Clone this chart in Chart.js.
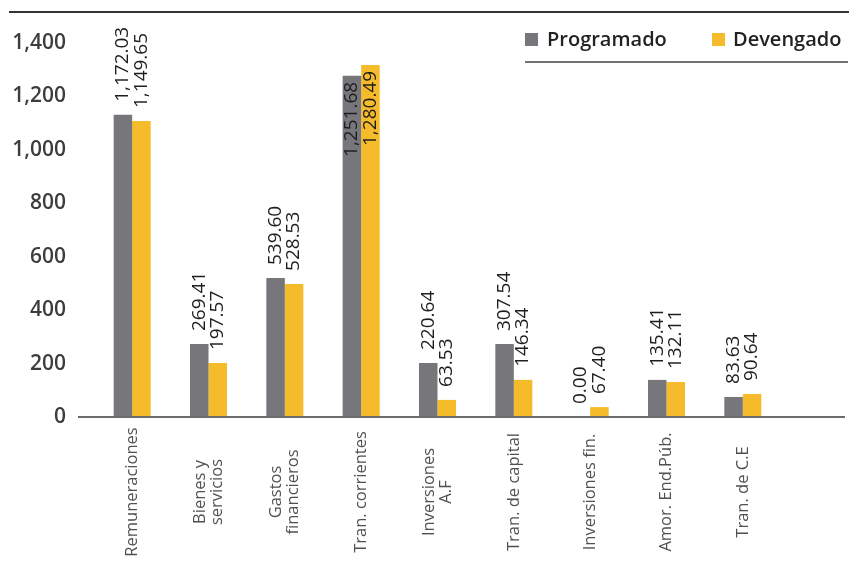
<!DOCTYPE html>
<html>
<head>
<meta charset="utf-8">
<script src="https://cdn.jsdelivr.net/npm/chart.js@4"></script>
<style>
    html, body { margin: 0; padding: 0; background: #fff; }
    #wrap { width: 849px; height: 562px; position: relative; }
</style>
</head>
<body>
<div id="wrap"><canvas id="gastoChart"></canvas></div>
<script>
const categories = [
    ['Remuneraciones'], ['Bienes y', 'servicios'], ['Gastos', 'financieros'],
    ['Tran. corrientes'], ['Inversiones', 'A.F'], ['Tran. de capital'],
    ['Inversiones fin.'], ['Amor. End.Púb.'], ['Tran. de C.E']
];
// bar heights as drawn in the picture
const programado = [1131, 273, 520, 1277, 202, 273, 0, 139, 75];
const devengado = [1108, 202, 498, 1318, 64, 139, 37, 131, 86];
// value labels printed above the bars
const programadoLabels = ['1,172.03', '269.41', '539.60', '1,251.68', '220.64', '307.54', '0.00', '135.41', '83.63'];
const devengadoLabels = ['1,149.65', '197.57', '528.53', '1,280.49', '63.53', '146.34', '67.40', '132.11', '90.64'];
const yMin = 0, yMax = 1400, yStep = 200;

const FONT = '"Open Sans", sans-serif';
const valueLabels = [programadoLabels, devengadoLabels];

const decorPlugin = {
    id: 'decor',
    afterDatasetsDraw(chart) {
        const ctx = chart.ctx;
        const area = chart.chartArea;
        const xs = chart.scales.x;
        ctx.save();

        // top rule
        ctx.strokeStyle = '#333';
        ctx.lineWidth = 2;
        ctx.beginPath();
        ctx.moveTo(9, 12);
        ctx.lineTo(849, 12);
        ctx.stroke();

        // baseline
        ctx.strokeStyle = '#6b6b6b';
        ctx.lineWidth = 2;
        ctx.beginPath();
        ctx.moveTo(78, area.bottom);
        ctx.lineTo(845, area.bottom);
        ctx.stroke();

        // value labels, rotated
        ctx.fillStyle = '#1e1e1e';
        ctx.font = '19px ' + FONT;
        ctx.textBaseline = 'middle';
        chart.data.datasets.forEach((ds, di) => {
            chart.getDatasetMeta(di).data.forEach((bar, i) => {
                const txt = valueLabels[di][i];
                const w = ctx.measureText(txt).width;
                ctx.save();
                if (bar.y - 13 - w < 0) {
                    ctx.translate(bar.x, bar.y + 6);
                    ctx.rotate(-Math.PI / 2);
                    ctx.textAlign = 'right';
                } else {
                    ctx.translate(bar.x, bar.y - 13);
                    ctx.rotate(-Math.PI / 2);
                    ctx.textAlign = 'left';
                }
                ctx.fillText(txt, 0, 0);
                ctx.restore();
            });
        });

        // category labels, rotated and centred
        ctx.fillStyle = '#505050';
        ctx.font = '16.5px ' + FONT;
        ctx.textAlign = 'center';
        categories.forEach((lines, i) => {
            const x = xs.getPixelForValue(i);
            lines.forEach((line, k) => {
                const off = (k - (lines.length - 1) / 2) * 17;
                ctx.save();
                ctx.translate(x + off, 492);
                ctx.rotate(-Math.PI / 2);
                ctx.fillText(line, 0, 0);
                ctx.restore();
            });
        });

        // legend
        ctx.font = '600 20px ' + FONT;
        ctx.textAlign = 'left';
        const legendPos = [[525, 547], [712, 733]];
        chart.data.datasets.forEach((ds, di) => {
            ctx.fillStyle = ds.backgroundColor;
            ctx.fillRect(legendPos[di][0], 33, 13, 13);
            ctx.fillStyle = '#222';
            ctx.fillText(ds.label, legendPos[di][1], 40);
        });
        ctx.strokeStyle = '#444';
        ctx.lineWidth = 1.5;
        ctx.beginPath();
        ctx.moveTo(525, 62);
        ctx.lineTo(848, 62);
        ctx.stroke();

        ctx.restore();
    }
};

const ctx = document.getElementById('gastoChart').getContext('2d');
new Chart(ctx, {
    type: 'bar',
    data: {
        labels: categories.map(c => c.join(' ')),
        datasets: [
            { label: 'Programado', data: programado, backgroundColor: '#77777b' },
            { label: 'Devengado', data: devengado, backgroundColor: '#f5bb2a' }
        ]
    },
    options: {
        responsive: true,
        maintainAspectRatio: false,
        animation: false,
        categoryPercentage: 0.485,
        barPercentage: 1.0,
        layout: { padding: { top: 43, bottom: 145, left: 0, right: 68 } },
        plugins: {
            legend: { display: false },
            tooltip: { enabled: false }
        },
        scales: {
            x: {
                display: false
            },
            y: {
                min: yMin,
                max: yMax,
                afterFit(scale) { scale.width = 94; },
                grid: { display: false, drawTicks: false },
                border: { display: false },
                ticks: {
                    stepSize: yStep,
                    padding: 28,
                    color: '#3d3d3d',
                    font: { family: FONT, size: 21, weight: '600' },
                    callback: v => v.toLocaleString('en-US')
                }
            }
        }
    },
    plugins: [decorPlugin]
});
</script>
</body>
</html>
